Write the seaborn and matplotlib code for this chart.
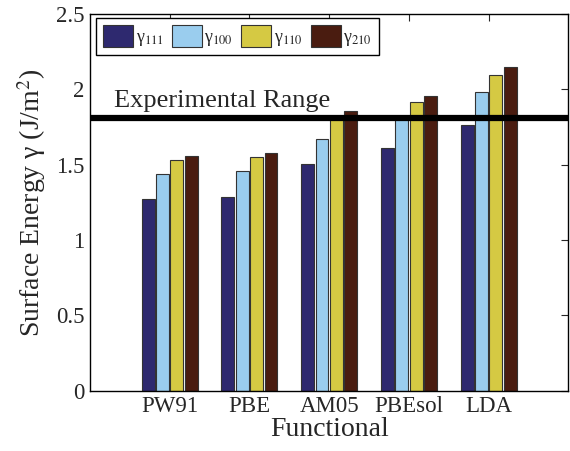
import numpy as np
import pandas as pd
import matplotlib
matplotlib.use("Agg")
import matplotlib.pyplot as plt
import seaborn as sns
from matplotlib.patches import Patch

# Données
functionals = ["PW91", "PBE", "AM05", "PBEsol", "LDA"]
facettes = ["111", "100", "110", "210"]
gamma_111 = [1.27, 1.285, 1.505, 1.61, 1.76]
gamma_100 = [1.44, 1.458, 1.672, 1.80, 1.985]
gamma_110 = [1.53, 1.551, 1.80, 1.915, 2.098]
gamma_210 = [1.558, 1.578, 1.855, 1.955, 2.147]
experimental = 1.81
couleurs = ["#2E296F", "#9ACDEE", "#D5C943", "#4A1C10"]

df = pd.DataFrame({
    "functional": functionals * 4,
    "facette": [f for f in facettes for _ in functionals],
    "gamma": gamma_111 + gamma_100 + gamma_110 + gamma_210,
})

sns.set_style("white")
plt.rcParams["font.family"] = ["Liberation Serif", "DejaVu Serif"]
plt.rcParams["mathtext.fontset"] = "stix"

fig = plt.figure(figsize=(5.7, 4.51), dpi=100)
ax = fig.add_axes([0.158, 0.134, 0.839, 0.835])

sns.barplot(data=df, x="functional", y="gamma", hue="facette",
            order=functionals, hue_order=facettes, palette=couleurs,
            saturation=1, width=0.72, gap=0.1, edgecolor="#333333",
            linewidth=0.8, legend=False, ax=ax, zorder=2)

# Ligne de la plage expérimentale
ax.axhline(experimental, color="black", lw=4.5, zorder=3)
ax.text(-0.7, experimental + 0.04, "Experimental Range", fontsize=19,
        ha="left", va="bottom")

ax.set_xlim(-1, 5)
ax.set_ylim(0, 2.5)
ax.set_yticks([0, 0.5, 1, 1.5, 2, 2.5])
ax.set_yticklabels(["0", "0.5", "1", "1.5", "2", "2.5"])
ax.set_xlabel("Functional", fontsize=20, labelpad=0)
ax.set_ylabel("Surface Energy γ (J/m$^2$)", fontsize=20, labelpad=6)
ax.tick_params(axis="both", direction="in", length=5, width=0.8,
               top=True, right=True, labelsize=16.5, pad=4)
for s in ax.spines.values():
    s.set_linewidth(1.0)
    s.set_color("black")

handles = [Patch(facecolor=c, edgecolor="#333333", lw=0.8) for c in couleurs]
labels = ["γ$_{%s}$" % f for f in facettes]
leg = ax.legend(handles, labels, loc="upper left", ncol=4,
                bbox_to_anchor=(6 / 480, 1 - 4 / 376), borderaxespad=0,
                fontsize=13, handlelength=1.65, handleheight=1.45,
                handletextpad=0.15, columnspacing=0.45, borderpad=0.4,
                fancybox=False, framealpha=1, edgecolor="black")
leg.get_frame().set_linewidth(1.0)

fig.savefig("out.png", dpi=100)
